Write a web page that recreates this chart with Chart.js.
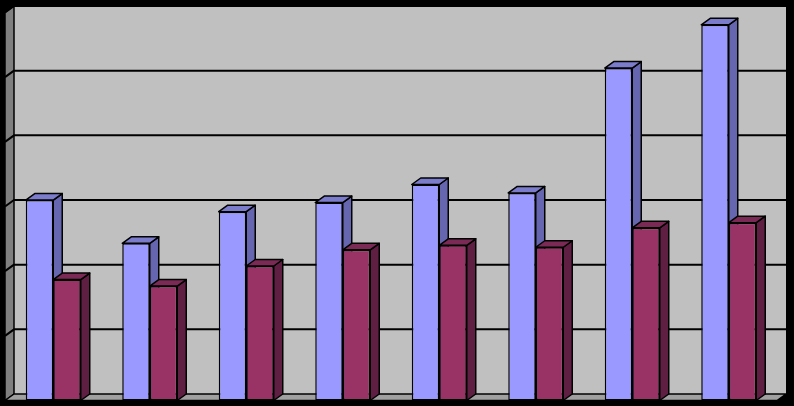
<!DOCTYPE html>
<html>
<head>
<meta charset="utf-8">
<script src="https://cdn.jsdelivr.net/npm/chart.js@4.4.0/dist/chart.umd.min.js"></script>
<style>
  html, body { margin: 0; padding: 0; background: #000; }
  #wrap { width: 794px; height: 406px; }
</style>
</head>
<body>
<div id="wrap"><canvas id="chart"></canvas></div>
<script>
// data (no labels are shown in the original)
const categories = ['1', '2', '3', '4', '5', '6', '7', '8'];
const seriesBlue = [31.0, 24.3, 29.2, 30.6, 33.4, 32.1, 51.4, 58.1];
const seriesMaroon = [18.7, 17.7, 20.8, 23.3, 24.0, 23.7, 26.7, 27.5];
const gridValues = [0, 10, 20, 30, 40, 50, 60];

// depth of the fake 3d look
const DX = 9;
const DY = 6.5;

const faceColors = [
  { top: '#7C7CCC', side: '#6666B0' },
  { top: '#7A2A55', side: '#5E1F42' }
];

function poly(ctx, pts, fill) {
  ctx.beginPath();
  ctx.moveTo(pts[0][0], pts[0][1]);
  for (let i = 1; i < pts.length; i++) ctx.lineTo(pts[i][0], pts[i][1]);
  ctx.closePath();
  ctx.fillStyle = fill;
  ctx.fill();
  ctx.stroke();
}

const box3d = {
  id: 'box3d',
  beforeDatasetsDraw(chart) {
    const { ctx, chartArea } = chart;
    const y = chart.scales.y;
    const L = chartArea.left, R = chartArea.right;
    const T = y.getPixelForValue(gridValues[gridValues.length - 1]);
    const B = y.getPixelForValue(0);
    ctx.save();
    ctx.strokeStyle = '#000';
    ctx.lineWidth = 1.5;
    ctx.lineJoin = 'round';

    // back wall
    ctx.fillStyle = '#C0C0C0';
    ctx.fillRect(L + DX, T - DY, R - L, B - T);
    // left wall
    poly(ctx, [[L, T], [L + DX, T - DY], [L + DX, B - DY], [L, B]], '#808080');
    // floor
    poly(ctx, [[L, B], [L + DX, B - DY], [R + DX, B - DY], [R, B]], '#A0A0A0');

    // grid lines on the back and left walls
    ctx.lineWidth = 2;
    gridValues.forEach(v => {
      if (v === 0) return;
      const py = y.getPixelForValue(v);
      ctx.beginPath();
      ctx.moveTo(L, py);
      ctx.lineTo(L + DX, py - DY);
      ctx.lineTo(R + DX, py - DY);
      ctx.stroke();
    });

    // top and side faces of the bars
    ctx.lineWidth = 1.5;
    const metas = [chart.getDatasetMeta(0), chart.getDatasetMeta(1)];
    for (let i = 0; i < categories.length; i++) {
      metas.forEach((meta, d) => {
        const bar = meta.data[i];
        const l = bar.x - bar.width / 2;
        const r = bar.x + bar.width / 2;
        const t = bar.y;
        const b = bar.base;
        poly(ctx, [[r, t], [r + DX, t - DY], [r + DX, b - DY], [r, b]], faceColors[d].side);
        poly(ctx, [[l, t], [l + DX, t - DY], [r + DX, t - DY], [r, t]], faceColors[d].top);
      });
    }
    ctx.restore();
  }
};

new Chart(document.getElementById('chart'), {
  type: 'bar',
  data: {
    labels: categories,
    datasets: [
      {
        data: seriesBlue,
        backgroundColor: '#9999FF',
        borderColor: '#000',
        borderWidth: 1.5,
        borderSkipped: false
      },
      {
        data: seriesMaroon,
        backgroundColor: '#993366',
        borderColor: '#000',
        borderWidth: 1.5,
        borderSkipped: false
      }
    ]
  },
  options: {
    responsive: true,
    maintainAspectRatio: false,
    animation: false,
    layout: { padding: { left: 5, right: 17, top: 12.5, bottom: 5.5 } },
    datasets: { bar: { barPercentage: 1, categoryPercentage: 0.57 } },
    plugins: { legend: { display: false }, tooltip: { enabled: false } },
    scales: {
      x: { display: false },
      y: { display: false, min: 0, max: 60, ticks: { stepSize: 10 } }
    }
  },
  plugins: [box3d]
});
</script>
</body>
</html>
